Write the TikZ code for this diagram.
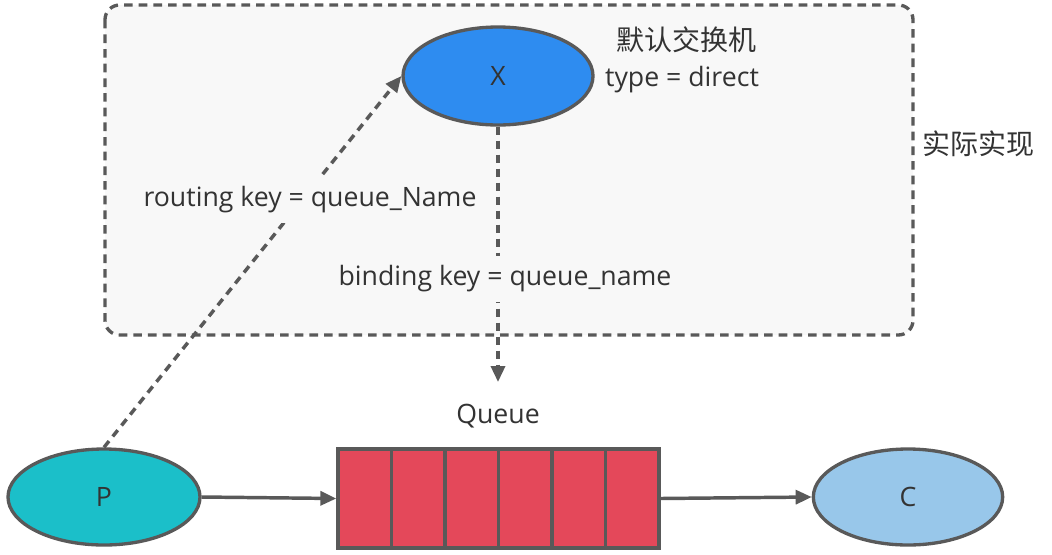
\documentclass[tikz,border=0pt]{standalone}
\usepackage{fontspec}
\setmainfont{Open Sans}
\newfontfamily\cjk{Noto Sans CJK SC}
\usetikzlibrary{arrows.meta,shapes.geometric}
\definecolor{lineGray}{HTML}{595959}
\definecolor{textGray}{HTML}{333333}
\definecolor{boxGray}{HTML}{F8F8F8}
\definecolor{xBlue}{HTML}{2E8CF0}
\definecolor{pCyan}{HTML}{1BBFC9}
\definecolor{cBlue}{HTML}{98C7EA}
\definecolor{qRed}{HTML}{E4485A}

\tikzset{every picture/.style={line width=0.75pt}}
\tikzset{
  every node/.style={text=textGray,font=\fontsize{20}{24}\selectfont},
  oval/.style={ellipse,draw=lineGray,line width=2.5,inner sep=0pt},
  keyLabel/.style={fill=boxGray,inner xsep=2pt,inner ysep=7pt},
  dashArrow/.style={draw=lineGray,line width=2.6,dash pattern=on 6pt off 4.5pt,-{Triangle[length=12pt,width=10.5pt]}},
  solidArrow/.style={draw=lineGray,line width=2.6,-{Triangle[length=12pt,width=10.5pt]}}
}

\begin{document}
\begin{tikzpicture}[x=0.75pt,y=0.75pt,yscale=-1,xscale=1]
	\useasboundingbox (0,0) rectangle (1052,554);
	
	%Rounded Rect [id:dp_default_box] 
	\draw [draw=lineGray,fill=boxGray,line width=2.5,dash pattern=on 6.5pt off 4.5pt,rounded corners=11pt]  (105,5) rectangle (913,335) ;
	
	%Shape: Ellipse [id:dp_exchange] 
	\node [oval,fill=xBlue,minimum width=142.5pt,minimum height=73.5pt] (X) at (498,76) {X};
	%Shape: Ellipse [id:dp_producer] 
	\node [oval,fill=pCyan,minimum width=144pt,minimum height=72pt] (P) at (104,497) {P};
	%Shape: Ellipse [id:dp_consumer] 
	\node [oval,fill=cBlue,minimum width=142pt,minimum height=72pt] (C) at (908,497) {C};
	%Shape: Rectangle [id:dp_queue] 
	\node [draw=lineGray,fill=qRed,line width=2.5,minimum width=240.75pt,minimum height=74.25pt,inner sep=0pt] (Q) at (498.5,498.5) {};
	
	%Straight Lines [id:da_cell1] 
	\draw [lineGray,line width=2.5]    (391.5,449) -- (391.5,548) ;
	%Straight Lines [id:da_cell2] 
	\draw [lineGray,line width=2.5]    (445,449) -- (445,548) ;
	%Straight Lines [id:da_cell3] 
	\draw [lineGray,line width=2.5]    (498.5,449) -- (498.5,548) ;
	%Straight Lines [id:da_cell4] 
	\draw [lineGray,line width=2.5]    (552,449) -- (552,548) ;
	%Straight Lines [id:da_cell5] 
	\draw [lineGray,line width=2.5]    (605.5,449) -- (605.5,548) ;
	
	%Straight Lines [id:da_routing] 
	\draw [dashArrow]    (P.north) -- (X.west) ;
	%Straight Lines [id:da_binding] 
	\coordinate (qIn) at (498,382);
	\draw [dashArrow]    (X.south) -- (qIn) ;
	%Straight Lines [id:da_publish] 
	\draw [solidArrow]    (P.east) -- (Q.west) ;
	%Straight Lines [id:da_consume] 
	\draw [solidArrow]    (Q.east) -- (C.west) ;
	
	%Text labels
	\node [font=\fontsize{21}{24}\selectfont] (xTitle) at (686,40) {\cjk 默认交换机};
	\node (xType) at (682,80) {type = direct};
	\node [font=\fontsize{21}{24}\selectfont] (impl) at (978,144) {\cjk 实际实现};
	\node [keyLabel] (rKey) at (310,200) {routing key = queue\_Name};
	\node [keyLabel] (bKey) at (505,279) {binding key = queue\_name};
	\node (qLabel) at (498,416) {Queue};
	
\end{tikzpicture}
\end{document}
